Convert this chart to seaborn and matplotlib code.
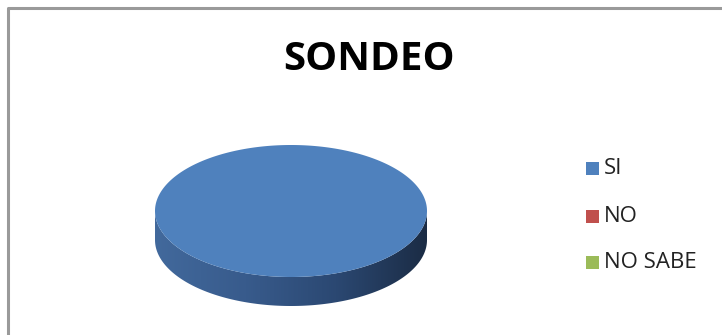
import numpy as np
import matplotlib
matplotlib.use("Agg")
import matplotlib.pyplot as plt
import seaborn as sns
from matplotlib.patches import Polygon
from matplotlib.colors import LinearSegmentedColormap

sns.set_theme(style="white")
plt.rcParams['font.family'] = ['Open Sans', 'DejaVu Sans']

title = "SONDEO"
categories = ["SI", "NO", "NO SABE"]
values = [100, 0, 0]
colors = ["#4F81BD", "#C0504D", "#9BBB59"]

W, H = 722, 335
fig = plt.figure(figsize=(W / 100, H / 100), dpi=100)
ax = fig.add_axes([0, 0, 1, 1])
ax.set_xlim(0, W)
ax.set_ylim(H, 0)
ax.axis("off")

# chart border (top and left visible)
ax.plot([8, 8, W + 5], [H + 5, 7.5, 7.5], color="#9a9a9a", lw=2.2, solid_capstyle="butt", zorder=1)

# 3D pie geometry
cx, cy, a, b, depth = 291, 211, 136, 66, 29
total = float(sum(values))
start = 90.0
for cat, val, col in zip(categories, values, colors):
    frac = val / total
    if frac <= 0:
        continue
    ang = np.radians(np.linspace(start, start - 360 * frac, 400))
    start -= 360 * frac
    xs = cx + a * np.cos(ang)
    ys = cy - b * np.sin(ang)
    front = np.sin(ang) <= 0
    if front.any():
        fx, fy = xs[front], ys[front]
        order = np.argsort(fx)
        fx, fy = fx[order], fy[order]
        side = np.concatenate([np.column_stack([fx, fy]),
                               np.column_stack([fx[::-1], fy[::-1] + depth])])
        poly = Polygon(side, closed=True, facecolor="none", edgecolor="none")
        ax.add_patch(poly)
        cmap = LinearSegmentedColormap.from_list(
            "side", ["#42699c", "#385b8c", "#2b4872", "#1b2c45"])
        grad = np.linspace(0, 1, 256).reshape(1, -1)
        im = ax.imshow(grad, cmap=cmap, aspect="auto",
                       extent=[fx.min(), fx.max(), fy.max() + depth, fy.min() - 1],
                       zorder=2, interpolation="bilinear")
        im.set_clip_path(poly)
    top = np.column_stack([xs, ys])
    if frac < 1:
        top = np.vstack([[cx, cy], top])
    ax.add_patch(Polygon(top, closed=True, facecolor=col, edgecolor="none", zorder=3))

ax.text(369, 59, title, ha="center", va="center", fontsize=29,
        fontweight="bold", color="black", zorder=4)

# legend
ly = [168, 216, 262]
for cat, col, y in zip(categories, colors, ly):
    ax.add_patch(plt.Rectangle((586, y - 6), 13, 13, facecolor=col, edgecolor="none", zorder=4))
    ax.text(604, y, cat, ha="left", va="center", fontsize=16, color="#222222", zorder=4)

fig.savefig("out.png", dpi=100, facecolor="white")
